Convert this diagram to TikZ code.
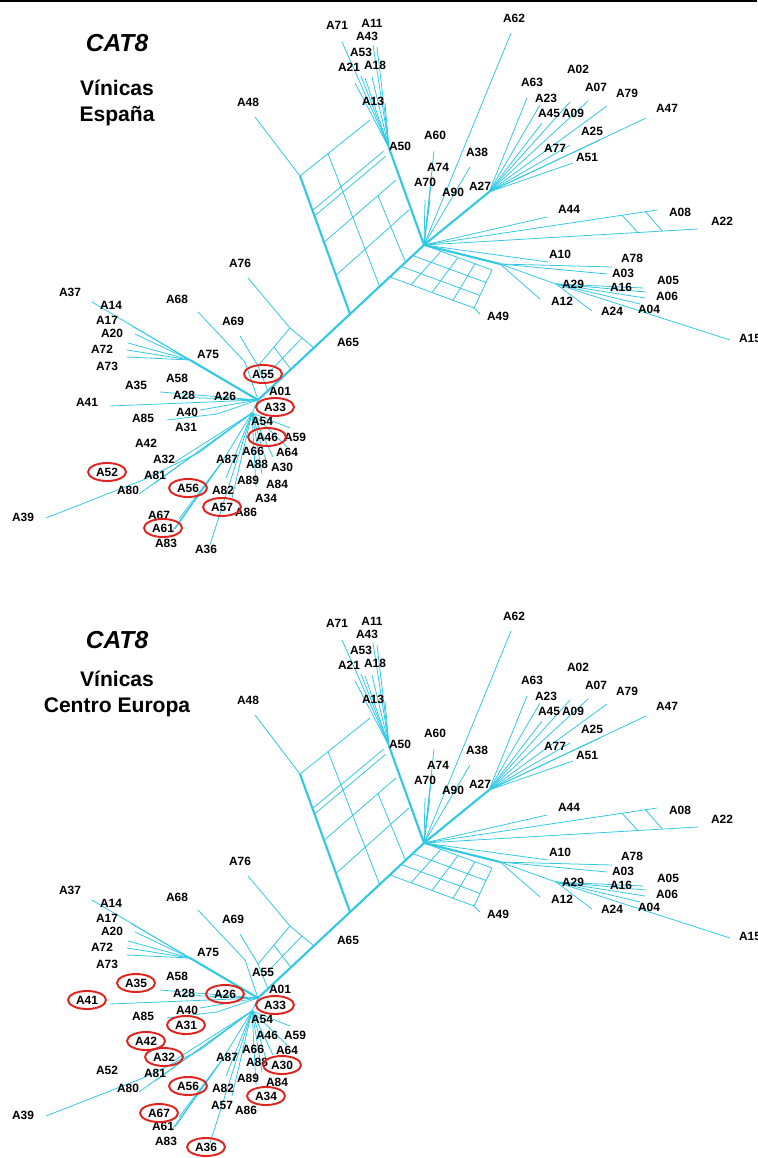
\documentclass[tikz,border=0pt]{standalone}
\usepackage{fontspec}
\setmainfont{Liberation Sans}
\usetikzlibrary{calc, shapes.geometric}

\definecolor{netblue}{RGB}{50,200,228}
\definecolor{ringred}{RGB}{225,35,30}

\begin{document}
\begin{tikzpicture}[x=0.02cm, y=-0.02cm,
    net/.style={draw=netblue, line width=0.45pt},
    bundle/.style={line width=1.2pt},
    taxon/.style={font=\bfseries\fontsize{6.8}{8}\selectfont, inner sep=0pt},
    ring/.style={draw=ringred, line width=1.1pt, ellipse, minimum width=0.76cm, minimum height=0.36cm},
    heading/.style={font=\bfseries\itshape\fontsize{14}{16}\selectfont},
    subheading/.style={font=\bfseries\fontsize{12}{14.7}\selectfont, align=center}
]
\useasboundingbox (0,0) rectangle (757,1158);
\clip (0,0) rectangle (757,1158);
\draw[line width=1.2pt] (0,1) -- (757,1);

% both panels show the same split network, only the highlighted taxa change
\foreach \p/\dy in {a/0, b/598} {
\begin{scope}[shift={(0,\dy)}]
    % hubs, joins and mesh corners
    \foreach \n/\x/\y in {h1/424/245, h2/258/400, h3/252/413, j13/389/148, f27/489/192,
        b29/500/264, b2/556/284, j1/190/360, u00/300/176, u10/350/314, u01/370/120,
        c10/390/277, c01/492/270, c11/474/308, w00/258/366, w01/290/328, w10/268/391,
        w11/314/348, k68/245/362, k85/217/414, k39/200/452, k39b/143/480, k67/222/462}
        \coordinate (\p-\n) at (\x,\y);
    % leaf ends
    \foreach \n/\x/\y in {t71/342/42, t11/377/47, t43/373/45, t53/365/78, t21/355/83,
        t18/372/77, t13/385/103, tx1/361/76, t48/255/117, t60/434/151, t74/432/176,
        t70/425/200, t70b/430/200, t38/470/167, t62/511/33, t63/527/98, t23/540/105,
        t45/542/123, t09/570/102, t07/588/101, t79/607/106, t47/646/118, t25/600/140,
        t77/570/145, t51/573/163, t44/547/217, t08/657/210, t22/698/229, t10/548/262,
        t78/612/267, t03/607/274, t16/643/288, t05/646/292, t06/645/298, t04/640/304,
        t24/592/311, t12/540/299, t15/730/340, t49/480/314, t76/248/278, t69/240/336,
        t68/198/312, t37/92/302, t14/132/326, t17/135/334, t20/128/343, t72/127/350,
        t73/127/357, t58/160/392, t28/176/397, t41/110/406, t40/200/410, t85/167/420,
        t39/46/518, t80/139/494, t81/155/483, t32/175/462, t67/179/519, t61/175/529,
        t83/171/533, t36/210/545, t57/232/498, t82/226/478, t59/290/428, t64/287/447,
        t46/273/457, t66/266/461, t88/262/474, t89/256/487}
        \coordinate (\p-\n) at (\x,\y);

    % heavy splits
    \foreach \a/\b in {h2/h1, j13/h1, u00/u10, h1/f27, h1/b29, j1/h2}
        \draw[net, bundle] (\p-\a) -- (\p-\b);

    % pendant and inner edges
    \foreach \a/\b in {t71/j13, t11/j13, t43/j13, t53/j13, t21/j13, t18/j13, t13/j13,
        tx1/j13, t48/u00, h1/t60, h1/t74, h1/t70, h1/t70b, h1/t38, h1/t62,
        f27/t63, f27/t23, f27/t45, f27/t09, f27/t07, f27/t79, f27/t47, f27/t25,
        f27/t77, f27/t51, h1/t44, h1/t08, h1/t22, h1/t10, b29/t78, b29/t03, b29/t12,
        b29/b2, b2/t16, b2/t05, b2/t06, b2/t04, b2/t24, b2/t15, c11/t49,
        j1/t37, j1/t14, j1/t17, j1/t20, j1/t72, j1/t73, h2/t58, h2/t28, h2/t41,
        h2/t40, h2/k85, k85/t85, t68/k68, k68/h2, t69/w00, t76/w01,
        h2/h3, h3/k39, k39/k39b, k39b/t39, h3/t80, h3/t81, h3/t32, h3/k67,
        k67/t67, k67/t61, k67/t83, h3/t36, h3/t57, h3/t82, h3/t59, h3/t64,
        h3/t46, h3/t66, h3/t88, h3/t89}
        \draw[net] (\p-\a) -- (\p-\b);

    % upper box mesh
    \foreach \s in {0,0.25,0.29,0.48,0.72}
        \draw[net] ($(\p-u00)!\s!(\p-u10)$) -- ($(\p-u01)!\s!(\p-h1)$);
    \draw[net] ($(\p-u00)!0.4!(\p-u01)$) -- ($(\p-u10)!0.4!(\p-h1)$);
    \coordinate (\p-m1) at ($(\p-u00)!0.48!(\p-u10)$);
    \coordinate (\p-m2) at ($(\p-u01)!0.48!(\p-h1)$);
    \draw[net] ($(\p-m1)!0.75!(\p-m2)$) -- ($(\p-u10)!0.75!(\p-h1)$);

    % lower right mesh
    \foreach \s in {0,0.25,0.5,0.75,1}
        \draw[net] ($(\p-h1)!\s!(\p-c01)$) -- ($(\p-c10)!\s!(\p-c11)$);
    \foreach \s in {0,0.33,0.67,1}
        \draw[net] ($(\p-h1)!\s!(\p-c10)$) -- ($(\p-c01)!\s!(\p-c11)$);

    % small mesh left of the trunk
    \foreach \s in {0,0.5,1} {
        \draw[net] ($(\p-w00)!\s!(\p-w10)$) -- ($(\p-w01)!\s!(\p-w11)$);
        \draw[net] ($(\p-w00)!\s!(\p-w01)$) -- ($(\p-w10)!\s!(\p-w11)$);
    }

    % box between A08 and A22
    \draw[net] ($(\p-h1)!0.85!(\p-t08)$) -- ($(\p-h1)!0.78!(\p-t22)$);
    \draw[net] ($(\p-h1)!0.95!(\p-t08)$) -- ($(\p-h1)!0.87!(\p-t22)$);

    % taxa
    \foreach \n/\x/\y in {71/337/25, 11/372/23, 43/367/36, 53/361/52, 21/349/67,
        18/375/65, 13/373/101, 48/248/102, 50/400/146, 60/435/135, 74/438/167,
        70/425/182, 90/453/192, 62/514/18, 02/578/69, 63/532/82, 07/596/87,
        79/627/93, 23/546/98, 45/549/113, 09/573/113, 47/667/108, 25/592/131,
        77/555/148, 51/587/157, 38/477/152, 27/480/186, 44/569/209, 08/680/212,
        22/722/221, 10/560/254, 78/632/258, 03/623/273, 05/668/280, 29/573/284,
        16/621/287, 06/667/296, 12/562/301, 24/612/311, 04/649/309, 49/498/316,
        15/750/338, 76/240/263, 37/70/292, 68/177/299, 14/111/305, 17/107/320,
        69/233/321, 20/112/333, 72/102/349, 75/208/354, 73/107/366, 58/177/378,
        35/136/385, 28/184/395, 26/225/396, 41/87/402, 40/187/412, 85/143/418,
        31/186/427, 42/146/443, 65/348/342, 55/263/374, 01/280/391, 33/275/407,
        54/262/421, 46/267/437, 59/295/437, 66/253/451, 64/287/452, 87/227/459,
        88/257/464, 30/282/467, 89/248/480, 84/277/484, 82/223/490, 34/266/498,
        57/222/507, 86/246/512, 32/164/459, 52/107/472, 81/155/475, 80/128/490,
        56/188/488, 39/23/517, 67/159/515, 61/163/528, 83/166/543, 36/206/549}
        \node[taxon] (\p-\n) at (\x,\y) {A\n};
\end{scope}
}

% panel titles
\node[heading] (cat-a) at (117,43) {CAT8};
\node[subheading] (sub-a) at (117,103) {Vínicas\\España};
\node[heading] (cat-b) at (117,640) {CAT8};
\node[subheading] (sub-b) at (117,694) {Vínicas\\Centro Europa};

% highlighted taxa
\foreach \n in {55,33,46,52,56,57,61}
    \node[ring] at (a-\n) {};
\foreach \n in {35,41,26,33,31,42,32,30,56,34,67,36}
    \node[ring] at (b-\n) {};

\end{tikzpicture}
\end{document}
